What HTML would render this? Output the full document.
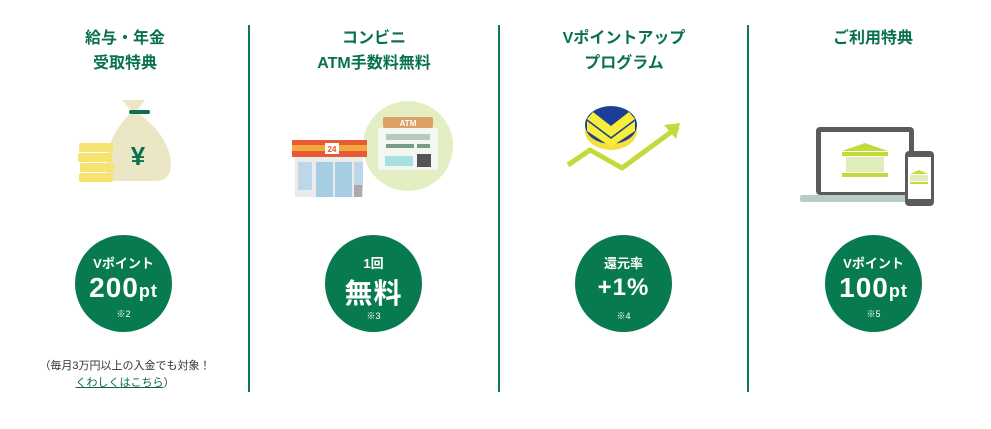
<!DOCTYPE html>
<html><head><meta charset="utf-8"><style>
body{margin:0;width:991px;height:429px;background:#fff;position:relative;font-family:"Liberation Sans","Noto Sans CJK JP",sans-serif;overflow:hidden}
.div{position:absolute;top:25px;width:2px;height:367px;background:#0a7a52}
.t{position:absolute;width:250px;text-align:center;color:#0a7150;font-weight:bold;font-size:16px;line-height:25px;top:26px}
.c{position:absolute;top:235px;width:97px;height:97px;border-radius:50%;background:#087a50;color:#fff;text-align:center;font-weight:bold}
.s1{position:absolute;left:0;right:0;font-size:13px}
.big{position:absolute;left:0;right:0;font-size:28px;letter-spacing:1px}
.sm{position:absolute;left:0;right:0;font-size:9px;font-weight:normal}
svg{position:absolute}
</style></head><body>
<div class="div" style="left:248px"></div>
<div class="div" style="left:498px"></div>
<div class="div" style="left:747px"></div>
<div class="t" style="left:0">給与・年金<br>受取特典</div>
<div class="t" style="left:249px">コンビニ<br>ATM手数料無料</div>
<div class="t" style="left:499px">Vポイントアップ<br>プログラム</div>
<div class="t" style="left:748px">ご利用特典</div>

<svg style="left:70px;top:95px" width="110" height="90">
<path d="M52 5 L75 5 L66 17 Q100 40 101 70 Q101 86 85 86 L45 86 Q36 86 36 75 Q36 40 62 17 Z" fill="#ebe6c4"/>
<rect x="59" y="15" width="21" height="4" rx="2" fill="#0a7150"/>
<text x="68" y="70" font-size="26" font-weight="bold" fill="#0a7150" text-anchor="middle" font-family="Liberation Sans">¥</text>
<rect x="9" y="48" width="34" height="9" rx="2" fill="#f6e371"/>
<rect x="8" y="58" width="34" height="9" rx="2" fill="#f6e371"/>
<rect x="10" y="68" width="34" height="9" rx="2" fill="#f6e371"/>
<rect x="9" y="78" width="34" height="9" rx="2" fill="#f6e371"/>
</svg>

<svg style="left:290px;top:100px" width="170" height="100">
<circle cx="118" cy="46" r="45" fill="#e3eec3"/>
<rect x="93" y="17" width="50" height="11" rx="2" fill="#dc9f64"/>
<text x="118" y="26" font-size="8" font-weight="bold" fill="#fff" text-anchor="middle">ATM</text>
<rect x="88" y="28" width="60" height="42" fill="#f4f6f1"/>
<rect x="96" y="34" width="44" height="6" fill="#b4cabd"/>
<rect x="96" y="44" width="28" height="4" fill="#7a9b86"/><rect x="127" y="44" width="13" height="4" fill="#7a9b86"/>
<rect x="95" y="56" width="28" height="10" fill="#a6e0e0"/>
<rect x="127" y="54" width="14" height="13" fill="#555"/>
<rect x="2" y="40" width="75" height="17" fill="#e85a33"/>
<rect x="2" y="45" width="75" height="6" fill="#f2a83c"/>
<rect x="35" y="43" width="14" height="11" fill="#fff"/>
<text x="42" y="52" font-size="8" font-weight="bold" fill="#e85a33" text-anchor="middle">24</text>
<rect x="5" y="57" width="68" height="40" fill="#ebebeb"/>
<rect x="8" y="62" width="14" height="28" fill="#bcd8e8"/>
<rect x="26" y="62" width="17" height="35" fill="#a6cde3"/>
<rect x="45" y="62" width="17" height="35" fill="#a6cde3"/>
<rect x="64" y="62" width="9" height="28" fill="#bcd8e8"/>
<rect x="64" y="85" width="8" height="12" fill="#aaa"/>
</svg>

<svg style="left:560px;top:95px" width="125" height="80">
<polyline points="8,70 30,55 62,73 118,32" fill="none" stroke="#c4da3a" stroke-width="5" stroke-linejoin="round"/>
<polygon points="120,28 104,30 116,44" fill="#c4da3a"/>
<ellipse cx="51" cy="36" rx="26" ry="19" fill="#f7de3a"/>
<ellipse cx="51" cy="30" rx="26" ry="19" fill="#1c3e96"/>
<path d="M27 26 L51 44 L75 26 L75 36 L51 52 L27 36Z" fill="#f8ee3a"/>
<path d="M33 17 L51 31 L69 17 L75 24 L51 42 L27 24Z" fill="#f8ee3a"/>
</svg>

<svg style="left:798px;top:125px" width="140" height="85">
<rect x="18" y="2" width="98" height="68" rx="4" fill="#5b5b5b"/>
<rect x="23" y="7" width="88" height="60" fill="#fff"/>
<rect x="2" y="70" width="115" height="7" rx="2" fill="#b8ccc4"/>
<polygon points="67,18 44,26 90,26" fill="#c4da3a"/>
<rect x="44" y="27" width="46" height="4" fill="#c4da3a"/>
<rect x="48" y="32" width="38" height="15" fill="#e0edb8"/>
<rect x="44" y="48" width="46" height="4" fill="#c4da3a"/>
<rect x="107" y="26" width="29" height="55" rx="4" fill="#5b5b5b"/>
<rect x="110" y="32" width="23" height="42" fill="#fff"/>
<polygon points="121,45 112,49 130,49" fill="#c4da3a"/>
<rect x="112" y="50" width="18" height="6" fill="#e0edb8"/>
<rect x="112" y="57" width="18" height="2" fill="#c4da3a"/>
</svg>

<div class="c" style="left:75px"><div class="s1" style="top:18px">Vポイント</div><div class="big" style="top:37px">200<span style="font-size:18px">pt</span></div><div class="sm" style="top:72px">※2</div></div>
<div class="c" style="left:325px"><div class="s1" style="top:18px">1回</div><div class="big" style="top:37px">無料</div><div class="sm" style="top:74px">※3</div></div>
<div class="c" style="left:575px"><div class="s1" style="top:18px">還元率</div><div class="big" style="top:39px;font-size:24px">+1%</div><div class="sm" style="top:74px">※4</div></div>
<div class="c" style="left:825px"><div class="s1" style="top:18px">Vポイント</div><div class="big" style="top:37px">100<span style="font-size:18px">pt</span></div><div class="sm" style="top:72px">※5</div></div>

<div style="position:absolute;left:0;width:250px;top:358px;text-align:center;font-size:11px;line-height:17px;color:#333">（毎月3万円以上の入金でも対象！<br><span style="color:#0a6848;text-decoration:underline">くわしくはこちら</span>）</div>
</body></html>
